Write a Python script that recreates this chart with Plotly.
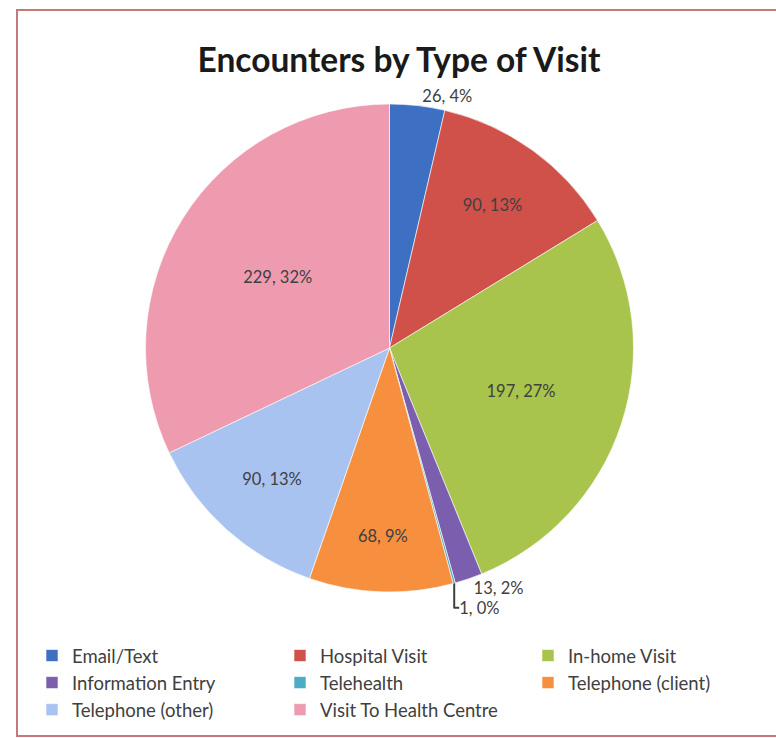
import plotly.graph_objects as go

categories = ["Email/Text", "Hospital Visit", "In-home Visit", "Information Entry",
              "Telehealth", "Telephone (client)", "Telephone (other)", "Visit To Health Centre"]
encounters = [26, 90, 197, 13, 1, 68, 90, 229]
percent_labels = [4, 13, 27, 2, 0, 9, 13, 32]
slice_colors = ["#3D70C2", "#D0514A", "#A8C44C", "#7B5EAE",
                "#4BACC6", "#F68F3E", "#A9C3F0", "#EE9BB0"]
label_positions = ["outside", "inside", "inside", "outside",
                   "outside", "inside", "inside", "inside"]

W, H = 776, 738

fig = go.Figure()
fig.add_trace(go.Pie(
    labels=categories,
    values=encounters,
    customdata=percent_labels,
    sort=False,
    direction="clockwise",
    rotation=0,
    marker=dict(colors=slice_colors, line=dict(color="rgba(255,255,255,0.6)", width=1)),
    texttemplate="%{value}, %{customdata}%",
    textposition=label_positions,
    insidetextorientation="horizontal",
    textfont=dict(family="Lato", size=16.5, color="#404040"),
    domain=dict(x=[142 / W, 637 / W], y=[1 - 592 / H, 1 - 104 / H]),
    hoverinfo="label+value+percent",
))

fig.update_layout(
    width=W, height=H,
    margin=dict(l=0, r=0, t=0, b=0),
    paper_bgcolor="white",
    title=dict(text="<b>Encounters by Type of Visit</b>", x=399 / W, xanchor="center",
               y=1 - 60 / H, yanchor="middle",
               font=dict(family="Lato", size=33.5, color="#1a1a1a")),
    showlegend=True,
    legend=dict(orientation="h", x=32 / W, xanchor="left", y=1 - 683 / H, yanchor="middle",
                entrywidth=203, entrywidthmode="pixels",
                font=dict(family="Lato", size=18.5, color="#404040"),
                traceorder="normal"),
    shapes=[dict(type="rect", xref="paper", yref="paper",
                 x0=17 / W, x1=1.02, y0=1 - 736 / H, y1=1 - 10 / H,
                 line=dict(color="#C47878", width=2), fillcolor="rgba(0,0,0,0)")],
)

fig.write_html("out.html")
